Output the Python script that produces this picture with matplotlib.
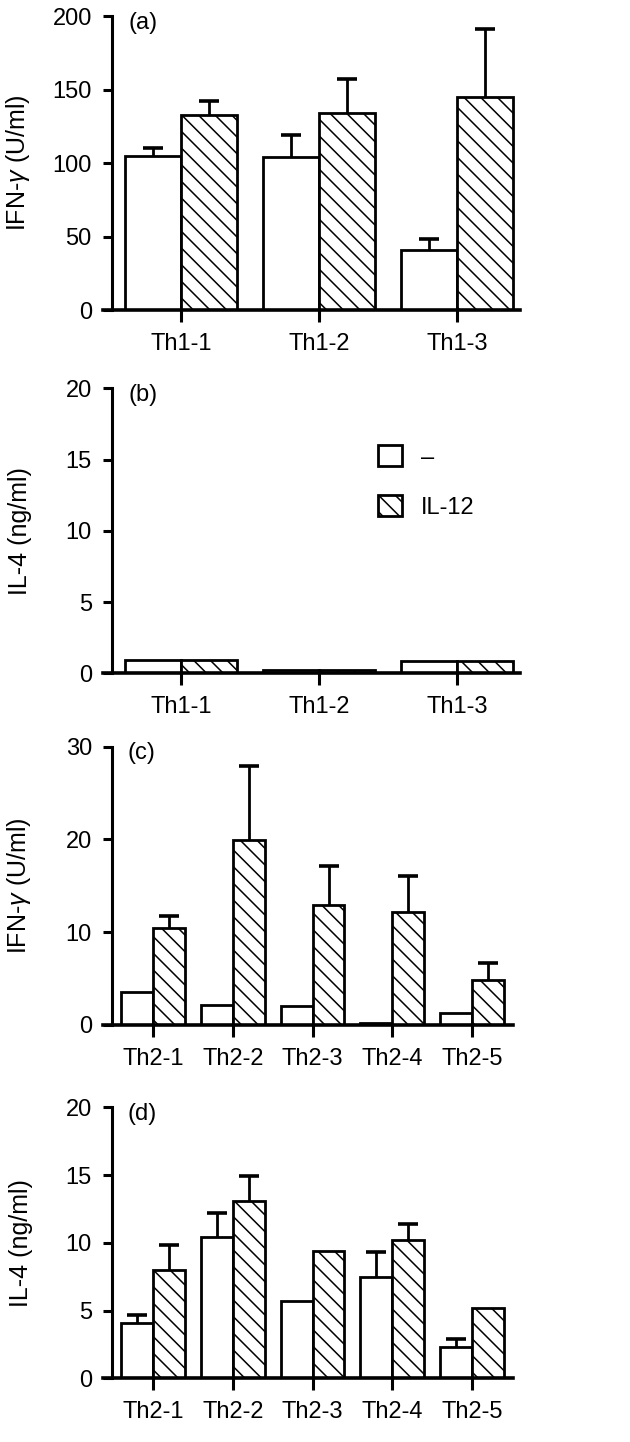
import matplotlib
matplotlib.use('Agg')
import matplotlib.pyplot as plt
import numpy as np

plt.rcParams['font.family'] = ['Liberation Sans', 'DejaVu Sans']
plt.rcParams['mathtext.fontset'] = 'custom'
plt.rcParams['mathtext.it'] = 'Liberation Sans:italic'
plt.rcParams['mathtext.rm'] = 'Liberation Sans'
plt.rcParams['hatch.linewidth'] = 1.1

# cell lines
th1_labels = ['Th1-1', 'Th1-2', 'Th1-3']
th2_labels = ['Th2-1', 'Th2-2', 'Th2-3', 'Th2-4', 'Th2-5']

# (a) IFN-gamma, Th1 clones
ifn_th1_ctrl = [105, 104, 41]
ifn_th1_ctrl_err = [5.5, 15, 7]
ifn_th1_il12 = [133, 134, 145]
ifn_th1_il12_err = [9.5, 23, 46]

# (b) IL-4, Th1 clones
il4_th1_ctrl = [0.9, 0.25, 0.85]
il4_th1_il12 = [0.9, 0.25, 0.85]

# (c) IFN-gamma, Th2 clones
ifn_th2_ctrl = [3.6, 2.1, 2.05, 0.2, 1.3]
ifn_th2_il12 = [10.5, 19.9, 12.9, 12.2, 4.9]
ifn_th2_il12_err = [1.2, 8.0, 4.2, 3.9, 1.8]

# (d) IL-4, Th2 clones
il4_th2_ctrl = [4.1, 10.4, 5.7, 7.5, 2.3]
il4_th2_ctrl_err = [0.55, 1.8, 0, 1.8, 0.6]
il4_th2_il12 = [8.0, 13.1, 9.4, 10.2, 5.2]
il4_th2_il12_err = [1.85, 1.8, 0, 1.2, 0]

FS = 17


def add_err(ax, x, y, err):
    # upper error only: hide the cap that would sit on the bar top
    x = np.asarray(x, float)
    y = np.asarray(y, float)
    err = np.asarray(err, float)
    keep = err > 0
    lower = np.zeros(keep.sum())
    eb = ax.errorbar(x[keep], y[keep], yerr=[lower, err[keep]], fmt='none',
                     ecolor='black', elinewidth=2.0, capsize=7, capthick=2.6,
                     zorder=1)
    for cap in eb[1]:
        if np.allclose(cap.get_ydata(), y[keep]):
            cap.set_visible(False)


def panel(ax, labels, ctrl, il12, width, xlim, spine_x, ylim, yticks,
          ylabel, tag, ctrl_err=None, il12_err=None):
    x = np.arange(len(labels))
    b1 = ax.bar(x - width / 2, ctrl, width, color='white', edgecolor='black',
                linewidth=2.0, zorder=2)
    b2 = ax.bar(x + width / 2, il12, width, color='white', edgecolor='black',
                linewidth=2.0, hatch='\\\\', zorder=2)
    if ctrl_err is not None:
        add_err(ax, x - width / 2, ctrl, ctrl_err)
    if il12_err is not None:
        add_err(ax, x + width / 2, il12, il12_err)
    ax.set_xlim(*xlim)
    ax.set_ylim(*ylim)
    ax.set_yticks(yticks)
    ax.set_xticks(x)
    ax.set_xticklabels(labels)
    ax.spines['top'].set_visible(False)
    ax.spines['right'].set_visible(False)
    ax.spines['left'].set_position(('data', spine_x))
    ax.spines['left'].set_linewidth(2.2)
    ax.spines['bottom'].set_linewidth(2.6)
    ax.spines['bottom'].set_zorder(3)
    ax.tick_params(axis='y', direction='out', length=6.5, width=2.2,
                   labelsize=FS, pad=8)
    ax.tick_params(axis='x', direction='out', length=8.5, width=2.2,
                   labelsize=FS, pad=8)
    ax.set_ylabel(ylabel, fontsize=18)
    ax.yaxis.set_label_coords(-0.17, 0.5)
    ax.text(0.06, 1.015, tag, transform=ax.transAxes, va='top', ha='left',
            fontsize=FS)
    return b1, b2


fig = plt.figure(figsize=(6.3, 14.42), dpi=100)

ax_a = fig.add_axes([0.1635, 0.7850, 0.662, 0.2039])
ax_b = fig.add_axes([0.1635, 0.5331, 0.662, 0.1976])
ax_c = fig.add_axes([0.1635, 0.2892, 0.651, 0.1930])
ax_d = fig.add_axes([0.1635, 0.0442, 0.651, 0.1879])

panel(ax_a, th1_labels, ifn_th1_ctrl, ifn_th1_il12, 0.405, (-0.565, 2.457),
      -0.5, (0, 200), [0, 50, 100, 150, 200], 'IFN-$\\gamma$ (U/ml)', '(a)',
      ifn_th1_ctrl_err, ifn_th1_il12_err)

b1, b2 = panel(ax_b, th1_labels, il4_th1_ctrl, il4_th1_il12, 0.405,
               (-0.565, 2.457), -0.5, (0, 20), [0, 5, 10, 15, 20],
               'IL-4 (ng/ml)', '(b)')
ax_b.legend([b1, b2], ['\u2013', 'IL-12'], loc='upper left',
            bbox_to_anchor=(0.66, 0.80), frameon=False, handlelength=1.0,
            handleheight=1.0, handletextpad=0.8, labelspacing=1.1,
            borderpad=0, borderaxespad=0, fontsize=FS)

panel(ax_c, th2_labels, ifn_th2_ctrl, ifn_th2_il12, 0.4, (-0.627, 4.514),
      -0.514, (0, 30), [0, 10, 20, 30], 'IFN-$\\gamma$ (U/ml)', '(c)',
      None, ifn_th2_il12_err)

panel(ax_d, th2_labels, il4_th2_ctrl, il4_th2_il12, 0.4, (-0.627, 4.514),
      -0.514, (0, 20), [0, 5, 10, 15, 20], 'IL-4 (ng/ml)', '(d)',
      il4_th2_ctrl_err, il4_th2_il12_err)

fig.savefig('out.png', dpi=100)
